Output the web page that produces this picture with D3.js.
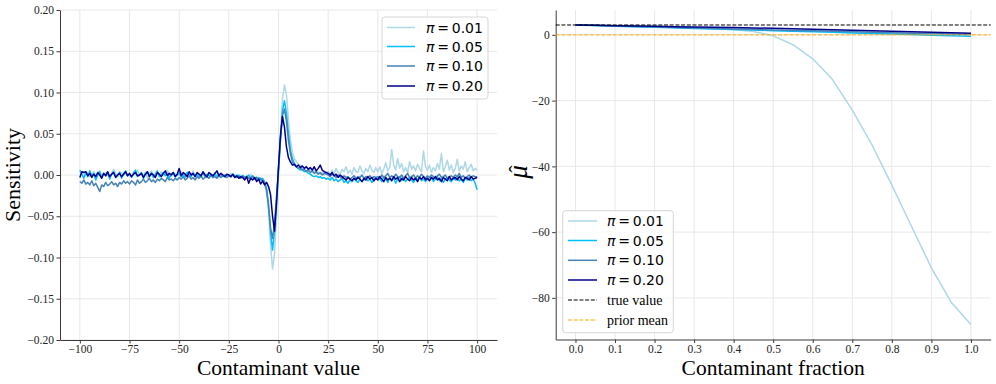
<!DOCTYPE html>
<html>
<head>
<meta charset="utf-8">
<script src="https://cdn.jsdelivr.net/npm/d3@7"></script>
<style>
  body { margin: 0; background: #fff; }
  svg { display: block; }
  .tick text { font-family: "Liberation Serif", serif; font-size: 11.5px; fill: #222; }
</style>
</head>
<body>
<div id="chart"></div>
<script>
// ---- left panel: sensitivity curves, contaminant value -100..100
var contamValues = d3.range(-100, 101, 1);

var sens01 = [
  0.004, 0.002, -0.003, 0.001, 0.003, -0.002, 0.000, 0.004, -0.001, 0.002, 0.005, -0.002, 0.001, 0.003, 0.000, -0.003, 0.002, 0.007, 0.001, -0.002, 0.004, 0.002, -0.001, 0.003, 0.000,
  0.002, -0.003, 0.004, 0.001, 0.006, -0.001, 0.002, 0.000, 0.003, -0.004, 0.002, 0.005, 0.001, -0.002, 0.003, 0.000, 0.004, -0.001, 0.002, 0.006, 0.000, -0.002, 0.003, 0.001, -0.001,
  0.002, 0.004, -0.002, 0.001, 0.003, -0.001, 0.000, 0.005, -0.002, 0.002, 0.000, -0.003, 0.003, 0.001, -0.001, 0.002, -0.002, 0.000, 0.003, -0.001, 0.001, 0.002, -0.002, 0.000, 0.001,
  -0.001, 0.002, 0.000, -0.003, 0.001, -0.001, -0.003, 0.000, -0.002, -0.004, -0.002, 0.001, -0.003, -0.004, -0.002, -0.005, -0.004, -0.007, -0.012, -0.022, -0.045, -0.085, -0.114, -0.095, -0.050,
  0.000, 0.050, 0.092, 0.109, 0.097, 0.068, 0.042, 0.028, 0.020, 0.016, 0.013, 0.012, 0.010, 0.008, 0.011, 0.005, 0.007, 0.003, 0.006, 0.002, 0.004, 0.001, 0.003, 0.000, 0.002,
  0.004, 0.000, 0.006, 0.002, 0.008, 0.003, 0.001, 0.007, 0.004, 0.010, 0.002, 0.006, 0.001, 0.009, 0.004, 0.003, 0.011, 0.005, 0.002, 0.008, 0.004, 0.012, 0.006, 0.003, 0.009,
  0.004, 0.010, 0.002, 0.007, 0.015, 0.005, 0.009, 0.031, 0.012, 0.006, 0.020, 0.008, 0.014, 0.004, 0.009, 0.003, 0.016, 0.007, 0.011, 0.005, 0.013, 0.008, 0.004, 0.029, 0.010,
  0.006, 0.012, 0.003, 0.009, 0.005, 0.014, 0.007, 0.026, 0.004, 0.010, 0.018, 0.006, 0.012, 0.003, 0.008, 0.019, 0.005, 0.011, 0.007, 0.016, 0.004, 0.009, 0.013, 0.005, 0.008, 0.006
];
var sens05 = [
  0.006, 0.001, -0.004, 0.003, -0.002, 0.005, -0.001, 0.002, -0.006, 0.000, 0.004, -0.003, 0.002, -0.001, 0.003, -0.005, 0.001, 0.004, -0.002, 0.000, 0.003, -0.004, 0.002, 0.005, -0.001,
  0.001, -0.003, 0.002, 0.006, -0.002, 0.000, 0.003, -0.004, 0.001, 0.004, -0.001, 0.002, -0.003, 0.001, 0.005, -0.002, 0.000, 0.003, -0.001, 0.002, -0.004, 0.001, 0.003, -0.002, 0.000,
  0.002, -0.002, 0.001, -0.003, 0.003, 0.000, -0.002, 0.002, -0.001, 0.001, -0.003, 0.000, 0.002, -0.002, 0.001, -0.001, 0.000, -0.003, 0.001, -0.002, 0.000, 0.001, -0.002, 0.000, -0.001,
  0.000, -0.002, 0.001, -0.001, -0.003, 0.000, -0.002, -0.001, -0.003, -0.002, 0.000, -0.004, -0.002, -0.003, -0.005, -0.003, -0.006, -0.004, -0.008, -0.016, -0.036, -0.070, -0.091, -0.068, -0.032,
  0.004, 0.042, 0.078, 0.090, 0.075, 0.050, 0.030, 0.020, 0.014, 0.010, 0.008, 0.006, 0.007, 0.004, 0.005, 0.002, 0.001, -0.001, -0.002, -0.001, -0.003, -0.002, -0.004, -0.003, -0.005,
  -0.004, -0.006, -0.003, -0.007, -0.005, -0.008, -0.006, -0.004, -0.009, -0.007, -0.010, -0.006, -0.008, -0.004, -0.007, -0.009, -0.005, -0.008, -0.006, -0.004, -0.007, -0.005, -0.009, -0.006, -0.003,
  -0.006, -0.004, -0.008, -0.002, -0.005, -0.009, -0.003, -0.006, -0.004, -0.010, -0.005, -0.002, -0.007, -0.004, -0.008, -0.005, -0.003, -0.006, -0.009, -0.004, -0.006, -0.002, -0.007, -0.005, -0.008,
  -0.004, -0.006, -0.003, -0.008, -0.005, -0.002, -0.007, -0.004, -0.009, -0.005, -0.003, -0.006, -0.008, -0.004, -0.006, -0.003, -0.007, -0.005, -0.009, -0.004, -0.006, -0.003, -0.007, -0.005, -0.010, -0.018
];
var sens10 = [
  -0.008, -0.010, -0.006, -0.011, -0.009, -0.012, -0.007, -0.013, -0.010, -0.015, -0.020, -0.012, -0.014, -0.009, -0.013, -0.011, -0.008, -0.012, -0.010, -0.014, -0.009, -0.011, -0.007, -0.010, -0.008,
  -0.011, -0.007, -0.009, -0.012, -0.006, -0.010, -0.008, -0.005, -0.009, -0.007, -0.004, -0.008, -0.006, -0.009, -0.005, -0.007, -0.004, -0.006, -0.008, -0.003, -0.006, -0.005, -0.007, -0.004, -0.006,
  -0.003, -0.005, -0.002, -0.006, -0.004, -0.001, -0.005, -0.003, -0.006, -0.002, -0.004, -0.001, -0.005, -0.003, -0.002, -0.004, 0.000, -0.003, -0.002, -0.004, -0.001, -0.003, 0.000, -0.002, -0.003,
  -0.001, -0.002, 0.000, -0.003, -0.001, -0.002, -0.004, -0.001, -0.003, -0.002, -0.004, -0.003, -0.001, -0.005, -0.003, -0.006, -0.004, -0.007, -0.010, -0.018, -0.038, -0.064, -0.077, -0.058, -0.026,
  0.008, 0.044, 0.072, 0.080, 0.065, 0.042, 0.026, 0.016, 0.012, 0.010, 0.008, 0.009, 0.006, 0.007, 0.004, 0.006, 0.003, 0.005, 0.002, 0.004, 0.001, 0.003, 0.000, 0.002, 0.001,
  0.000, -0.002, 0.001, -0.001, -0.003, 0.000, -0.002, -0.004, -0.001, -0.003, -0.002, -0.005, -0.003, -0.001, -0.004, -0.002, -0.003, 0.000, -0.004, -0.002, -0.003, -0.001, -0.004, -0.002, -0.003,
  -0.002, -0.004, 0.000, -0.003, -0.001, 0.002, -0.003, -0.001, -0.004, 0.001, -0.002, -0.003, 0.000, -0.004, -0.001, 0.002, -0.003, -0.002, 0.000, -0.004, -0.001, -0.003, 0.001, -0.002, -0.004,
  -0.001, -0.003, 0.000, -0.002, -0.004, -0.001, 0.001, -0.003, -0.002, 0.000, -0.004, -0.002, -0.001, -0.003, 0.000, -0.002, 0.002, -0.003, -0.001, -0.004, -0.002, 0.000, -0.003, -0.001, -0.002, -0.002
];
var sens20 = [
  -0.003, 0.004, 0.003, 0.004, -0.001, 0.002, -0.003, 0.001, -0.002, 0.003, 0.000, -0.004, 0.002, -0.001, 0.004, -0.002, 0.001, 0.003, -0.003, 0.000, 0.002, -0.002, 0.001, 0.004, -0.001,
  0.002, -0.002, 0.001, 0.003, -0.001, 0.000, 0.002, -0.003, 0.001, 0.004, -0.002, 0.002, 0.000, -0.003, 0.003, 0.001, -0.002, 0.002, 0.005, -0.001, 0.002, 0.000, 0.003, -0.002, 0.001,
  0.008, -0.001, 0.003, 0.001, -0.002, 0.004, 0.000, 0.002, -0.002, 0.003, 0.001, -0.001, 0.004, 0.000, -0.002, 0.003, 0.001, -0.001, 0.002, 0.005, -0.001, 0.002, 0.000, -0.002, 0.001,
  0.000, -0.002, 0.001, -0.003, -0.001, -0.004, -0.002, -0.003, -0.006, -0.002, -0.010, -0.004, -0.006, -0.003, -0.008, -0.005, -0.011, -0.007, -0.012, -0.009, -0.014, -0.024, -0.050, -0.068, -0.034,
  0.010, 0.048, 0.071, 0.058, 0.034, 0.021, 0.016, 0.012, 0.013, 0.010, 0.012, 0.009, 0.011, 0.008, 0.010, 0.007, 0.009, 0.006, 0.010, 0.005, 0.008, 0.012, 0.006, 0.004, 0.003,
  0.002, 0.000, 0.003, -0.001, 0.001, -0.003, 0.000, -0.002, -0.004, -0.006, -0.003, -0.005, -0.007, -0.004, -0.006, -0.003, -0.005, -0.008, -0.004, -0.006, -0.002, -0.005, -0.003, -0.007, -0.004,
  -0.006, -0.002, -0.005, -0.008, -0.003, -0.006, -0.004, -0.007, -0.002, -0.005, -0.003, -0.008, -0.004, -0.006, -0.002, -0.005, -0.007, -0.003, -0.006, -0.004, -0.008, -0.003, -0.005, -0.002, -0.006,
  -0.004, -0.007, -0.003, -0.005, -0.002, -0.006, -0.004, -0.008, -0.003, -0.005, -0.007, -0.002, -0.006, -0.004, -0.003, -0.006, -0.002, -0.005, -0.007, -0.003, -0.004, -0.006, -0.002, -0.005, -0.004, -0.003
];

// ---- right panel: mu-hat vs contaminant fraction
var fractions = [0.00, 0.05, 0.10, 0.15, 0.20, 0.25, 0.30, 0.35, 0.40, 0.45, 0.50,
                 0.55, 0.60, 0.65, 0.70, 0.75, 0.80, 0.85, 0.90, 0.95, 1.00];
var mu01 = [3.00, 2.96, 2.88, 2.76, 2.60, 2.42, 2.15, 1.88, 1.55, 1.05, -0.30,
            -3.0, -7.3, -13.6, -22.9, -33.5, -45.7, -58.3, -70.9, -81.3, -88.1];
var mu05 = [3.00, 2.83, 2.65, 2.48, 2.31, 2.13, 1.96, 1.79, 1.62, 1.44, 1.27,
            1.10, 0.93, 0.76, 0.59, 0.42, 0.25, 0.08, -0.09, -0.26, -0.42];
var mu10 = [3.00, 2.85, 2.70, 2.55, 2.40, 2.25, 2.10, 1.95, 1.80, 1.65, 1.50,
            1.36, 1.22, 1.08, 0.94, 0.80, 0.66, 0.52, 0.38, 0.24, 0.10];
var mu20 = [3.00, 2.90, 2.80, 2.70, 2.60, 2.50, 2.40, 2.30, 2.20, 2.10, 2.00,
            1.85, 1.70, 1.55, 1.40, 1.25, 1.10, 0.95, 0.80, 0.65, 0.50];
var trueValue = 3.0;
var priorMean = 0.0;

var piLabels = ["0.01", "0.05", "0.10", "0.20"];
var colors = ["#add8e6", "#00bfff", "#4682b4", "#00008b"];

var leftXTicks = [-100, -75, -50, -25, 0, 25, 50, 75, 100];
var leftYTicks = [-0.20, -0.15, -0.10, -0.05, 0.00, 0.05, 0.10, 0.15, 0.20];
var rightXTicks = [0.0, 0.1, 0.2, 0.3, 0.4, 0.5, 0.6, 0.7, 0.8, 0.9, 1.0];
var rightYTicks = [-80, -60, -40, -20, 0];

var svg = d3.select("#chart").append("svg")
  .attr("width", 996)
  .attr("height", 384);

var serif = "'Liberation Serif', 'Times New Roman', serif";
var gridColor = "#e8e8e8";
var spineColor = "#3a3a3a";

function makeAxes(x, y, xTicks, yTicks, xFmt, yFmt) {
  var g = svg.append("g");
  var x0 = x.range()[0], x1 = x.range()[1];
  var yb = y.range()[0], yt = y.range()[1];

  // grid
  g.append("g").selectAll("line").data(xTicks).enter().append("line")
    .attr("x1", function(d) { return x(d); }).attr("x2", function(d) { return x(d); })
    .attr("y1", yt).attr("y2", yb)
    .style("stroke", gridColor).style("stroke-width", 1);
  g.append("g").selectAll("line").data(yTicks).enter().append("line")
    .attr("y1", function(d) { return y(d); }).attr("y2", function(d) { return y(d); })
    .attr("x1", x0).attr("x2", x1)
    .style("stroke", gridColor).style("stroke-width", 1);

  var xAxis = g.append("g")
    .attr("transform", "translate(0," + yb + ")")
    .call(d3.axisBottom(x).tickValues(xTicks).tickFormat(d3.format(xFmt))
      .tickSize(3.5).tickSizeOuter(0).tickPadding(1.5));
  var yAxis = g.append("g")
    .attr("transform", "translate(" + x0 + ",0)")
    .call(d3.axisLeft(y).tickValues(yTicks).tickFormat(d3.format(yFmt))
      .tickSize(3.5).tickSizeOuter(0).tickPadding(2.5));
  [xAxis, yAxis].forEach(function(a) {
    a.select(".domain").style("stroke", spineColor).style("stroke-width", 1);
    a.selectAll(".tick line").style("stroke", spineColor);
  });
  return g;
}

// ============ LEFT PANEL ============
var xL = d3.scaleLinear().domain([-110, 110]).range([60, 497]);
var yL = d3.scaleLinear().domain([-0.2, 0.2]).range([340, 10]);
makeAxes(xL, yL, leftXTicks, leftYTicks, "d", ".2f");

var sensSeries = [sens01, sens05, sens10, sens20];
var lineL = d3.line()
  .x(function(d, i) { return xL(contamValues[i]); })
  .y(function(d) { return yL(d); });

svg.append("g").selectAll("path").data(sensSeries).enter().append("path")
  .attr("d", lineL)
  .style("fill", "none")
  .style("stroke", function(d, i) { return colors[i]; })
  .style("stroke-width", 1.5)
  .style("stroke-linejoin", "round");

svg.append("text")
  .attr("x", 278.5).attr("y", 374.5)
  .attr("text-anchor", "middle")
  .style("font-family", serif).style("font-size", "21.5px")
  .text("Contaminant value");

svg.append("text")
  .attr("transform", "translate(20,175) rotate(-90)")
  .attr("text-anchor", "middle")
  .style("font-family", serif).style("font-size", "22px")
  .text("Sensitivity");

// ============ RIGHT PANEL ============
var xR = d3.scaleLinear().domain([-0.05, 1.05]).range([555.7, 990.7]);
var yR = d3.scaleLinear().domain([-92.66, 7.56]).range([339.5, 10]);
makeAxes(xR, yR, rightXTicks, rightYTicks, ".1f", "d");

var muSeries = [mu01, mu05, mu10, mu20];
var lineR = d3.line()
  .x(function(d, i) { return xR(fractions[i]); })
  .y(function(d) { return yR(d); });

svg.append("g").selectAll("path").data(muSeries).enter().append("path")
  .attr("d", lineR)
  .style("fill", "none")
  .style("stroke", function(d, i) { return colors[i]; })
  .style("stroke-width", 1.5)
  .style("stroke-linejoin", "round");

svg.append("line")
  .attr("x1", 555.7).attr("x2", 990.7)
  .attr("y1", yR(trueValue)).attr("y2", yR(trueValue))
  .style("stroke", "black").style("stroke-width", 1).style("stroke-dasharray", "4,1.7");
svg.append("line")
  .attr("x1", 555.7).attr("x2", 990.7)
  .attr("y1", yR(priorMean)).attr("y2", yR(priorMean))
  .style("stroke", "orange").style("stroke-width", 1).style("stroke-dasharray", "4,1.7");

svg.append("text")
  .attr("x", 773.2).attr("y", 374.5)
  .attr("text-anchor", "middle")
  .style("font-family", serif).style("font-size", "21.5px")
  .text("Contaminant fraction");

// y label: mu with a hat, rotated
var muLabel = svg.append("g").attr("transform", "translate(527,172) rotate(-90)");
muLabel.append("text")
  .attr("text-anchor", "middle")
  .style("font-family", serif).style("font-size", "27px").style("font-style", "italic")
  .text("\u03bc");
muLabel.append("text")
  .attr("x", 3).attr("y", -3)
  .attr("text-anchor", "middle")
  .style("font-family", serif).style("font-size", "22px")
  .text("\u02c6");

// ============ LEGENDS ============
function drawLegend(x0, y0, w, h, rowY, handleX, textX, entries) {
  var g = svg.append("g");
  g.append("rect")
    .attr("x", x0).attr("y", y0).attr("width", w).attr("height", h)
    .attr("rx", 3)
    .style("fill", "white").style("fill-opacity", 0.8)
    .style("stroke", "#d6d6d6").style("stroke-width", 1);
  entries.forEach(function(e, i) {
    var cy = rowY[i];
    g.append("line")
      .attr("x1", handleX[0]).attr("x2", handleX[1]).attr("y1", cy).attr("y2", cy)
      .style("stroke", e.color).style("stroke-width", e.dash ? 1 : 1.5)
      .style("stroke-dasharray", e.dash ? "4,1.7" : null);
    var t = g.append("text").attr("x", textX).attr("y", cy + 5);
    if (e.pi) {
      t.style("font-family", "'DejaVu Sans', sans-serif").style("font-size", "14px");
      t.append("tspan").style("font-style", "italic").text("\u03c0");
      t.append("tspan").text("\u2009=\u2009" + e.pi);
    } else {
      t.style("font-family", serif).style("font-size", "14px").text(e.label);
    }
  });
}

var piEntries = piLabels.map(function(p, i) { return { pi: p, color: colors[i] }; });

drawLegend(382, 17, 106, 82, [27.5, 46.5, 66, 86], [387, 415], 426, piEntries);

drawLegend(562.7, 210.7, 110.6, 122, [221, 240.5, 260.3, 280, 300, 320], [568, 597], 607,
  piEntries.concat([
    { label: "true value", color: "black", dash: true },
    { label: "prior mean", color: "orange", dash: true }
  ]));
</script>
</body>
</html>
